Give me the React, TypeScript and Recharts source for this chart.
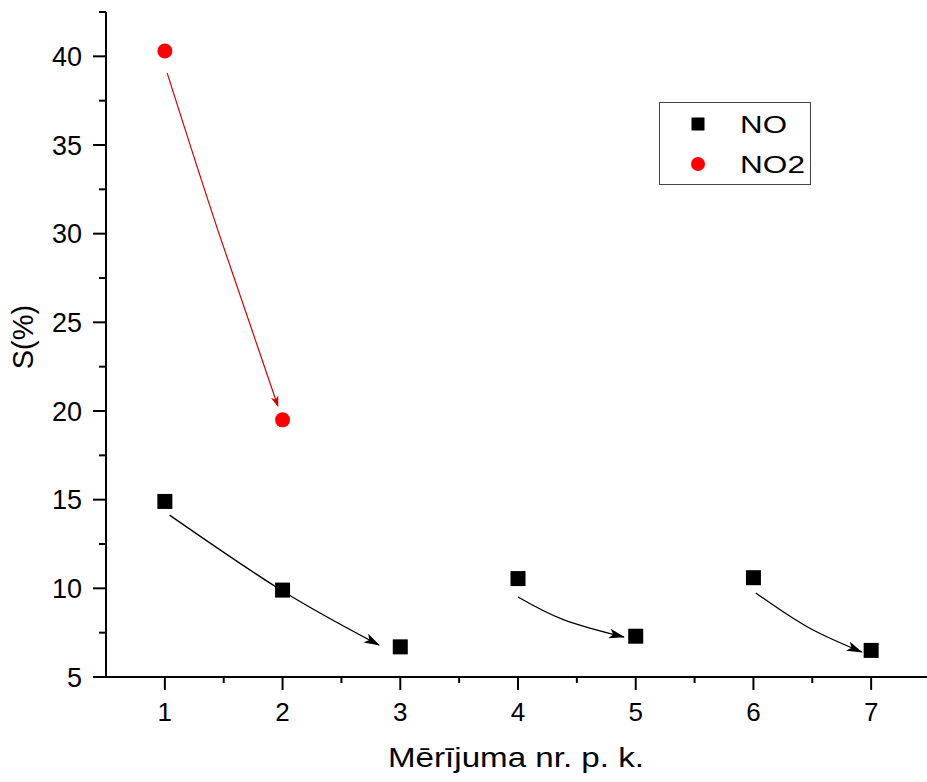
import { ScatterChart, Scatter, XAxis, YAxis, Legend } from "recharts";

// measurement numbers and S(%) values
const MEASUREMENTS = [1, 2, 3, 4, 5, 6, 7];
const NO_VALUES = [14.9, 9.9, 6.7, 10.55, 7.3, 10.6, 6.5];
const NO2_MEASUREMENTS = [1, 2];
const NO2_VALUES = [40.3, 19.5];

const X_TICKS = [1, 1.5, 2, 2.5, 3, 3.5, 4, 4.5, 5, 5.5, 6, 6.5, 7];
const Y_TICKS = [5, 7.5, 10, 12.5, 15, 17.5, 20, 22.5, 25, 27.5, 30, 32.5, 35, 37.5, 40, 42.5];

// trend arrows (start, middle, end) in data units
const ARROW_NO2 = [
  { x: 1.02, y: 39.05 },
  { x: 1.45, y: 30.2 },
  { x: 1.96, y: 20.28 },
];
const ARROW_NO_A = [
  { x: 1.04, y: 14.13 },
  { x: 2.0, y: 9.85 },
  { x: 2.82, y: 6.8 },
];
const ARROW_NO_B = [
  { x: 4.0, y: 9.51 },
  { x: 4.39, y: 8.22 },
  { x: 4.9, y: 7.25 },
];
const ARROW_NO_C = [
  { x: 6.02, y: 9.74 },
  { x: 6.46, y: 7.82 },
  { x: 6.92, y: 6.41 },
];

const SERIES = [
  { name: "NO", color: "#000000", shape: "square", textWidth: 47 },
  { name: "NO2", color: "#ff0000", shape: "circle", textWidth: 65 },
];

const FONT = "'Liberation Sans', Arial, sans-serif";

const noData = MEASUREMENTS.map((x, i) => ({ x, y: NO_VALUES[i] }));
const no2Data = NO2_MEASUREMENTS.map((x, i) => ({ x, y: NO2_VALUES[i] }));

const YTick = (props: any) => {
  const { x, y, payload } = props;
  const major = payload.value % 5 === 0;
  return (
    <g>
      <line x1={x - (major ? 13 : 7)} x2={x} y1={y} y2={y} stroke="#000" strokeWidth={2} />
      {major && (
        <text x={x - 24} y={y} dy="0.36em" textAnchor="end" fontSize={27} fill="#000" fontFamily={FONT}>
          {payload.value}
        </text>
      )}
    </g>
  );
};

const XTick = (props: any) => {
  const { x, y, payload } = props;
  const major = Number.isInteger(payload.value);
  return (
    <g>
      <line x1={x} x2={x} y1={y} y2={y + (major ? 13 : 6)} stroke="#000" strokeWidth={2} />
      {major && (
        <text x={x} y={y + 44} textAnchor="middle" fontSize={26} fill="#000" fontFamily={FONT}>
          {payload.value}
        </text>
      )}
    </g>
  );
};

const LegendBox = () => (
  <svg width={152} height={83} style={{ display: "block" }}>
    <rect x={0.5} y={0.5} width={151} height={82} fill="#fff" stroke="#444" strokeWidth={1} />
    {SERIES.map((s, i) => {
      const cy = 22 + i * 40;
      return (
        <g key={s.name}>
          {s.shape === "square" ? (
            <rect x={32.5} y={cy - 6.5} width={13} height={13} fill={s.color} />
          ) : (
            <circle cx={39} cy={cy} r={7} fill={s.color} />
          )}
          <text
            x={81}
            y={cy + 8.5}
            fontSize={24}
            fill="#000"
            fontFamily={FONT}
            textLength={s.textWidth}
            lengthAdjust="spacingAndGlyphs"
          >
            {s.name}
          </text>
        </g>
      );
    })}
  </svg>
);

const Square = (p: any) => <rect x={p.cx - 7.5} y={p.cy - 7.5} width={15} height={15} fill="#000" />;
const Dot = (p: any) => <circle cx={p.cx} cy={p.cy} r={7.5} fill="#ff0000" />;
const Hidden = () => <g />;

export default function App() {
  return (
    <div
      style={{
        position: "absolute",
        left: 0,
        top: 0,
        width: 927,
        height: 782,
        overflow: "hidden",
        background: "#fff",
      }}
    >
      <ScatterChart width={935} height={782} margin={{ top: 12, right: 5, bottom: 0, left: 0 }}>
        <defs>
          <marker id="arrowBlack" markerWidth={16} markerHeight={10} refX={15} refY={5} orient="auto" markerUnits="userSpaceOnUse">
            <path d="M0,0 L16,5 L0,10 L4,5 Z" fill="#000" />
          </marker>
          <marker id="arrowRed" markerWidth={11} markerHeight={8} refX={10} refY={4} orient="auto" markerUnits="userSpaceOnUse">
            <path d="M0,0 L11,4 L0,8 L3,4 Z" fill="#d40000" />
          </marker>
        </defs>
        <XAxis
          type="number"
          dataKey="x"
          domain={[0.5, 7.5]}
          allowDataOverflow
          ticks={X_TICKS}
          interval={0}
          height={105}
          tickSize={0}
          tickMargin={0}
          tickLine={false}
          axisLine={{ stroke: "#000", strokeWidth: 2 }}
          tick={<XTick />}
          label={{
            content: () => (
              <text
                x={388}
                y={767}
                fontSize={28}
                fill="#000"
                fontFamily={FONT}
                textLength={256}
                lengthAdjust="spacingAndGlyphs"
              >
                Mērījuma nr. p. k.
              </text>
            ),
          }}
        />
        <YAxis
          type="number"
          dataKey="y"
          domain={[5, 42.5]}
          allowDataOverflow
          ticks={Y_TICKS}
          interval={0}
          width={106}
          tickSize={0}
          tickMargin={0}
          tickLine={false}
          axisLine={{ stroke: "#000", strokeWidth: 2 }}
          tick={<YTick />}
          label={{
            content: () => (
              <text
                transform="translate(33,337) rotate(-90)"
                textAnchor="middle"
                fontSize={29}
                fill="#000"
                fontFamily={FONT}
              >
                S(%)
              </text>
            ),
          }}
        />
        <Legend
          layout="horizontal"
          verticalAlign="middle"
          align="center"
          wrapperStyle={{ left: 659, top: 102, width: 152, height: 83 }}
          content={<LegendBox />}
        />
        <Scatter name="arrow-no2" data={ARROW_NO2} shape={<Hidden />} legendType="none" isAnimationActive={false}
          line={{ stroke: "#d40000", strokeWidth: 1.2, markerEnd: "url(#arrowRed)" }} lineJointType="natural" />
        <Scatter name="arrow-a" data={ARROW_NO_A} shape={<Hidden />} legendType="none" isAnimationActive={false}
          line={{ stroke: "#000", strokeWidth: 1.3, markerEnd: "url(#arrowBlack)" }} lineJointType="natural" />
        <Scatter name="arrow-b" data={ARROW_NO_B} shape={<Hidden />} legendType="none" isAnimationActive={false}
          line={{ stroke: "#000", strokeWidth: 1.3, markerEnd: "url(#arrowBlack)" }} lineJointType="natural" />
        <Scatter name="arrow-c" data={ARROW_NO_C} shape={<Hidden />} legendType="none" isAnimationActive={false}
          line={{ stroke: "#000", strokeWidth: 1.3, markerEnd: "url(#arrowBlack)" }} lineJointType="natural" />
        <Scatter name="NO" data={noData} shape={<Square />} isAnimationActive={false} />
        <Scatter name="NO2" data={no2Data} shape={<Dot />} isAnimationActive={false} />
      </ScatterChart>
    </div>
  );
}
